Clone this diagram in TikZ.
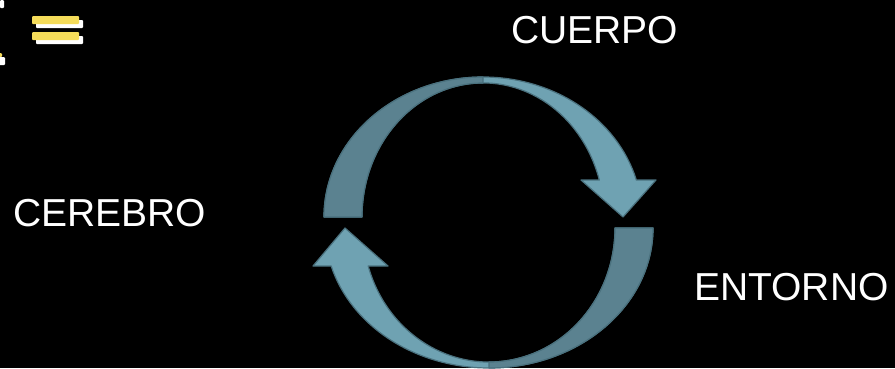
\documentclass[tikz,border=0pt]{standalone}
\usepackage{fontspec}
\setmainfont{Liberation Sans}
\usepackage{tikz}
\usetikzlibrary{calc}

\definecolor{cyclight}{RGB}{111,162,178}
\definecolor{cycdark}{RGB}{91,130,144}
\definecolor{cycedge}{RGB}{74,113,126}
\definecolor{iconyellow}{RGB}{245,220,90}

\begin{document}
\begin{tikzpicture}[x=1pt,y=1pt,
  lbl/.style={text=white,inner sep=0pt,anchor=base west,font=\fontsize{39}{46}\selectfont},
  band/.style={line width=1.2pt,draw=cycedge,line join=round},
  bar/.style={rounded corners=1pt}]
  \fill[black] (0,0) rectangle (895,368);
  \useasboundingbox (0,0) rectangle (895,368);

  % icon in the corner
  \fill[white,bar] (0,360) rectangle (4,368);
  \fill[iconyellow,bar] (-2,311) rectangle (2,315);
  \fill[white,bar] (-2,303) rectangle (5,311);
  \fill[white,bar] (36,340) rectangle (83,348);
  \fill[iconyellow,bar] (32,344) rectangle (79,352);
  \fill[white,bar] (36,324) rectangle (83,332);
  \fill[iconyellow,bar] (32,328) rectangle (79,336);

  % upper arrow
  \filldraw[band,fill=cyclight] (324,151) arc[start angle=180,end angle=15.3,x radius=159,y radius=140]
    -- (656,188) -- (623,151) -- (581,188) -- (599.3,188)
    arc[start angle=16,end angle=180,x radius=121,y radius=134] -- cycle;
  \filldraw[band,fill=cycdark] (324,151) arc[start angle=180,end angle=90,x radius=159,y radius=140]
    -- (483,285) arc[start angle=90,end angle=180,x radius=121,y radius=134] -- cycle;

  % lower arrow
  \filldraw[band,fill=cyclight] (653,140) arc[start angle=0,end angle=-164.25,x radius=164,y radius=140]
    -- (313,102) -- (345,140) -- (388,102) -- (368.2,102)
    arc[start angle=-163.53,end angle=0,x radius=126,y radius=134] -- cycle;
  \filldraw[band,fill=cycdark] (653,140) arc[start angle=0,end angle=-90,x radius=164,y radius=140]
    -- (489,6) arc[start angle=-90,end angle=0,x radius=126,y radius=134] -- cycle;

  % labels
  \node[lbl] (cuerpo) at (511,325) {CUERPO};
  \node[lbl] (cerebro) at (13,142) {CEREBRO};
  \node[lbl] (entorno) at (694,68) {ENTORNO};
\end{tikzpicture}
\end{document}
